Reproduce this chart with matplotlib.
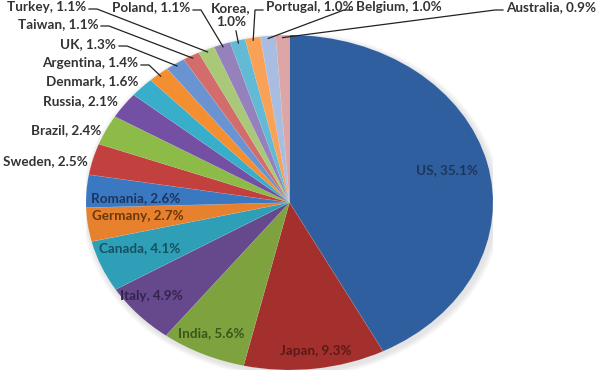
import numpy as np
import matplotlib
matplotlib.use("Agg")
from matplotlib import pyplot as plt
from matplotlib.lines import Line2D

countries = ["US", "Japan", "India", "Italy", "Canada", "Germany", "Romania",
             "Sweden", "Brazil", "Russia", "Denmark", "Argentina", "UK",
             "Taiwan", "Turkey", "Poland", "Korea", "Portugal", "Belgium",
             "Australia"]
shares = [35.1, 9.3, 5.6, 4.9, 4.1, 2.7, 2.6, 2.5, 2.4, 2.1, 1.6, 1.4, 1.3,
          1.1, 1.1, 1.1, 1.0, 1.0, 1.0, 0.9]

colors = ["#2f5f9f", "#a3302d", "#7da23e", "#66498c", "#2f9fb8", "#e8812e",
          "#3a78c2", "#c2403d", "#8dbb48", "#7350a3", "#38aecb", "#f38f31",
          "#6a93d2", "#d36d6b", "#a9c978", "#9581bb", "#62bad4", "#f9a157",
          "#a9bde1", "#dca6a6"]
text_dark = {"US": "#1c355e", "Japan": "#5a1a18", "India": "#3a561a",
             "Italy": "#33244d", "Canada": "#17505e", "Germany": "#6a3809",
             "Romania": "#1c355e"}

W, H = 600, 375
fig = plt.figure(figsize=(6, 3.75), dpi=100)

def fx(px):
    return px / W

def fy(py):
    return 1 - py / H

# ellipse box of the pie in pixels
L, R, T, B = 86, 493, 35, 370
ax = fig.add_axes([fx(L), fy(B), fx(R) - fx(L), fy(T) - fy(B)])

# soft shadow
for k, a in enumerate([0.05, 0.05, 0.05, 0.06]):
    s = 1.0 + 0.008 * (4 - k)
    ax.add_patch(matplotlib.patches.Ellipse((0.01, -0.015), 2 * s, 2 * s,
                                            color="#808080", alpha=a, lw=0))

wedges, _ = ax.pie(shares, colors=colors, startangle=90, counterclock=False,
                   wedgeprops=dict(linewidth=0.4, edgecolor=(1, 1, 1, 0.15)))
ax.set_aspect("auto")
ax.set_xlim(-1, 1)
ax.set_ylim(-1, 1)
ax.axis("off")

def edge_px(i, r=1.0):
    w = wedges[i]
    ang = np.deg2rad((w.theta1 + w.theta2) / 2)
    x = r * np.cos(ang)
    y = r * np.sin(ang)
    px = L + (x + 1) / 2 * (R - L)
    py = B - (y + 1) / 2 * (B - T)
    return px, py

def lab(name):
    return "%s, %.1f%%" % (name, shares[countries.index(name)])

fkw = dict(family=["Lato", "DejaVu Sans"], fontsize=9.7, fontweight="bold")

# labels inside the slices (pixel centre)
inside = {"US": (447, 170), "Japan": (316, 351), "India": (211, 333),
          "Italy": (151, 296), "Canada": (140, 248), "Germany": (138, 216),
          "Romania": (136, 198)}
for name, (px, py) in inside.items():
    fig.text(fx(px), fy(py), lab(name), ha="center", va="center",
             color=text_dark[name], **fkw)

# labels outside without leader lines (right end, y)
outside = {"Sweden": (88, 161), "Brazil": (101, 130), "Russia": (118, 101),
           "Denmark": (138, 81)}
for name, (px, py) in outside.items():
    fig.text(fx(px), fy(py), lab(name), ha="right", va="center",
             color="#333333", **fkw)

# labels with leader lines: text anchor, ha, line start
leaders = {"Argentina": (138, 63, "right", (141, 65)),
           "UK": (116, 44, "right", (119, 46)),
           "Taiwan": (98, 24, "right", (101, 26)),
           "Turkey": (86, 7, "right", (89, 9)),
           "Poland": (190, 7, "right", (193, 10)),
           "Portugal": (266, 7, "left", (263, 10)),
           "Belgium": (356, 7, "left", (352, 10)),
           "Australia": (506, 7, "left", (503, 10))}
for name, (px, py, ha, (lx, ly)) in leaders.items():
    fig.text(fx(px), fy(py), lab(name), ha=ha, va="center",
             color="#333333", **fkw)
    i = countries.index(name)
    ex, ey = edge_px(i, 0.985)
    dx = 8 if ha == "right" else -8
    xs = [lx, lx + dx, ex]
    ys = [ly, ly, ey]
    fig.add_artist(Line2D([fx(v) for v in xs], [fy(v) for v in ys],
                          color="#222222", lw=0.9))

# Korea label on two lines
fig.text(fx(231), fy(15), "Korea,\n1.0%", ha="center", va="center",
         color="#333333", linespacing=1.25, **fkw)
kx, ky = edge_px(countries.index("Korea"), 0.985)
fig.add_artist(Line2D([fx(236), fx(kx)], [fy(31), fy(ky)],
                      color="#222222", lw=0.9))

fig.savefig("out.png", dpi=100)
